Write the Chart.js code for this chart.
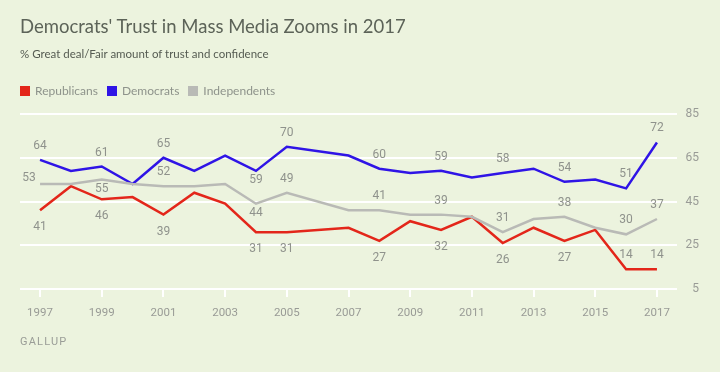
<!DOCTYPE html>
<html>
<head>
<meta charset="utf-8">
<script src="https://cdn.jsdelivr.net/npm/chart.js@4.4.0/dist/chart.umd.min.js"></script>
<style>
  body { margin: 0; background: #ecf3de; }
  #wrap { position: relative; width: 720px; height: 372px; background: #ecf3de; overflow: hidden; }
  #chart { position: absolute; left: 0; top: 0; }
  .txt { position: absolute; white-space: nowrap; font-family: Lato, sans-serif; }
  #title { left: 20px; top: 15px; font-size: 18.5px; color: #5c6358; }
  #subtitle { left: 20px; top: 47px; font-size: 11.5px; color: #555b52; }
  #legend { left: 20px; top: 83px; font-size: 12px; color: #8e938b; }
  #legend span.sw { display: inline-block; width: 10px; height: 10px; vertical-align: -1px; margin-right: 5px; }
  #legend span.it { margin-right: 9px; }
  #source { left: 20px; top: 335px; font-size: 11px; color: #9a9d97; letter-spacing: 1.2px; font-family: Roboto, sans-serif; }
</style>
</head>
<body>
<div id="wrap">
  <canvas id="chart" width="720" height="372"></canvas>
  <div class="txt" id="title">Democrats' Trust in Mass Media Zooms in 2017</div>
  <div class="txt" id="subtitle">% Great deal/Fair amount of trust and confidence</div>
  <div class="txt" id="legend"></div>
  <div class="txt" id="source">GALLUP</div>
</div>
<script>
// Datos (2006 sin encuesta)
const years = [1997, 1998, 1999, 2000, 2001, 2002, 2003, 2004, 2005, 2006, 2007,
               2008, 2009, 2010, 2011, 2012, 2013, 2014, 2015, 2016, 2017];
const republicans = [41, 52, 46, 47, 39, 49, 44, 31, 31, null, 33, 27, 36, 32, 38, 26, 33, 27, 32, 14, 14];
const democrats = [64, 59, 61, 53, 65, 59, 66, 59, 70, null, 66, 60, 58, 59, 56, 58, 60, 54, 55, 51, 72];
const independents = [53, 53, 55, 53, 52, 52, 53, 44, 49, null, 41, 41, 39, 39, 38, 31, 37, 38, 33, 30, 37];
const xTicks = [1997, 1999, 2001, 2003, 2005, 2007, 2009, 2011, 2013, 2015, 2017];
const yTicks = [5, 25, 45, 65, 85];

// Años con etiqueta y su colocación (a = arriba, b = abajo, n = abajo cerca, l = izquierda)
const labelYears = [1997, 1999, 2001, 2004, 2005, 2008, 2010, 2012, 2014, 2016, 2017];
const demPlace = ['a', 'a', 'a', 'n', 'a', 'a', 'a', 'a', 'a', 'a', 'a'];
const indPlace = ['l', 'n', 'a', 'n', 'a', 'a', 'a', 'a', 'a', 'a', 'a'];
const repPlace = ['b', 'b', 'b', 'b', 'b', 'b', 'b', 'b', 'b', 'a', 'a'];

const series = [
    { label: 'Republicans', data: republicans, color: '#e3261a', place: repPlace },
    { label: 'Democrats', data: democrats, color: '#2f14e6', place: demPlace },
    { label: 'Independents', data: independents, color: '#b9bab6', place: indPlace }
];

// Leyenda
series.forEach(function (s) {
    document.getElementById('legend').insertAdjacentHTML('beforeend',
        `<span class="sw" style="background:${s.color}"></span><span class="it">${s.label}</span>`);
});

const offsets = { a: [0, -14], b: [0, 17], n: [0, 9], l: [-11, -6] };

// Plugin para las etiquetas de valores
const valueLabels = {
    id: 'valueLabels',
    afterDatasetsDraw(chart) {
        const ctx = chart.ctx;
        const xs = chart.scales.x, ys = chart.scales.y;
        ctx.save();
        ctx.font = '12px Roboto, sans-serif';
        ctx.fillStyle = '#8f928c';
        ctx.textAlign = 'center';
        ctx.textBaseline = 'middle';
        series.forEach(function (s) {
            labelYears.forEach(function (yr, i) {
                const v = s.data[years.indexOf(yr)];
                const off = offsets[s.place[i]];
                ctx.fillText(String(v), xs.getPixelForValue(yr) + off[0], ys.getPixelForValue(v) + off[1]);
            });
        });
        ctx.restore();
    }
};

let ctx = document.getElementById('chart').getContext('2d');
let chart = new Chart(ctx, {
    type: 'line',
    data: {
        labels: years,
        datasets: series.map(function (s) {
            return {
                label: s.label,
                data: years.map((y, i) => ({ x: y, y: s.data[i] })),
                borderColor: s.color,
                borderWidth: 2.5,
                pointRadius: 0,
                tension: 0,
                spanGaps: true,
                clip: false
            };
        }).reverse()
    },
    options: {
        responsive: false,
        animation: false,
        layout: { padding: { left: 20, right: 21, top: 114, bottom: 43 } },
        plugins: { legend: { display: false }, tooltip: { enabled: false } },
        scales: {
            x: {
                type: 'linear',
                min: 1996.35,
                max: 2017.65,
                afterBuildTicks: s => { s.ticks = xTicks.map(v => ({ value: v })); },
                afterFit: s => { s.height = 40; },
                border: { display: false },
                grid: { drawOnChartArea: false, color: '#ffffff', lineWidth: 2, tickLength: 8 },
                ticks: { color: '#999b96', font: { family: 'Roboto', size: 11.5 }, padding: 9, maxRotation: 0,
                         callback: v => String(v) }
            },
            y: {
                position: 'right',
                min: 5,
                max: 85,
                afterBuildTicks: s => { s.ticks = yTicks.map(v => ({ value: v })); },
                afterFit: s => { s.width = 22; },
                border: { display: false },
                grid: { color: '#ffffff', lineWidth: 2, drawTicks: false },
                ticks: { color: '#999b96', font: { family: 'Roboto', size: 12 }, padding: 10, crossAlign: 'far' }
            }
        }
    },
    plugins: [valueLabels]
});
</script>
</body>
</html>
